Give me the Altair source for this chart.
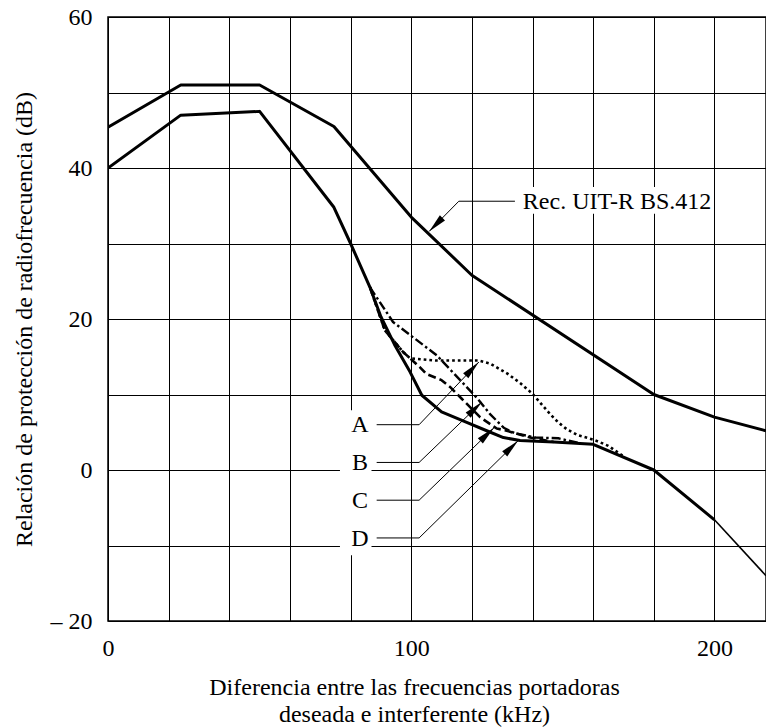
import math
import altair as alt
import pandas as pd

# ---------------- data ----------------
# Rec. UIT-R BS.412 curve
bs412_x = [0, 24, 50, 74.5, 100, 120, 180, 200, 217]
bs412_y = [45.4, 51, 51, 45.5, 33.5, 25.8, 10, 7, 5.2]

# Curve D (solid, bold)
d_x = [0, 24, 50, 74.5, 80, 86.4, 90, 94.5, 99.6, 103.5, 110, 118.3, 124.9,
       130.4, 135.9, 147, 160, 180, 200]
d_y = [40, 47, 47.5, 34.8, 30, 24.2, 20.3, 16.6, 13.0, 9.9, 7.7, 6.3, 5.2,
       4.3, 3.9, 3.7, 3.4, 0, -6.6]
# thin continuation of the lower curve
d_ext_x = [200, 217]
d_ext_y = [-6.6, -14]

# Curve C (dashed)
c_x = [86.4, 91.3, 97.4, 102.9, 105.1, 110, 112.8, 116.5, 122.7, 128.2, 131.5, 139.2, 147]
c_y = [24.2, 18.5, 15.6, 13.6, 12.7, 11.9, 11.0, 9.5, 7.0, 5.5, 5.2, 4.3, 3.7]

# Curve B (dash-dot)
b_x = [86.4, 94, 108.4, 122, 126, 130.5, 134, 141, 148.5, 155]
b_y = [24.2, 19.6, 15.2, 9.4, 7.4, 5.6, 4.9, 4.3, 4.2, 3.6]

# Curve A (dotted)
a_x = [86.4, 91.3, 97.4, 99.6, 108, 122.3, 126, 131.6, 136, 140, 143, 145.8,
       148.5, 151.3, 155, 160.3, 165, 170]
a_y = [24.2, 18.5, 15.6, 14.8, 14.5, 14.5, 14.1, 12.8, 11.5, 10.1, 8.7, 7.4,
       6.3, 5.4, 4.6, 4.0, 3.2, 1.8]

# Labels A-D and their leader arrows
lab_text = ["A", "B", "C", "D"]
lab_x = 83.1
lab_base_y = [5, 0, -5, -10]
lab_lead_y = [6, 1, -4, -9]
lead_x0, lead_x1 = 88.6, 102.6
tip_x = [122.3, 123.3, 127.3, 135.3]
tip_y = [14.3, 9.0, 5.6, 3.9]

# Rec. UIT-R BS.412 annotation
rec_text = "Rec. UIT-R BS.412"
rec_text_x, rec_text_y = 136.8, 34.6
rec_lead_x = [134.2, 115.7, 105.9]
rec_lead_y = [35.6, 35.6, 31.6]

# white boxes behind the annotation texts (grid interrupted there)
box_x = [134.2, 76.5]
box_x2 = [199.2, 86.9]
box_y = [33.95, -11.3]
box_y2 = [37.47, 7.9]

y_title = "Relación de protección de radiofrecuencia (dB)"
x_title = ["Diferencia entre las frecuencias portadoras", "deseada e interferente (kHz)"]

# ---------------- chart ----------------
FONT = "Liberation Serif"
W, H = 658, 604
XMAX = 217
YMIN, YMAX = -20, 60
PXX = W / XMAX
PXY = H / (YMAX - YMIN)

x_axis = alt.Axis(
    values=list(range(0, 201, 20)),
    labelExpr="datum.value % 100 == 0 ? datum.label : ''",
    format="d", grid=True, ticks=False, domain=False,
    gridColor="black", gridWidth=1, gridOpacity=1,
    labelFont=FONT, labelFontSize=24, labelColor="black", labelPadding=15,
    labelFlush=False, labelOverlap=False,
    title=x_title, titleFont=FONT, titleFontSize=24, titleFontWeight="normal",
    titleColor="black", titleX=306, titleY=73.5, titleAlign="center",
    titleBaseline="alphabetic", titleLineHeight=26.5,
)
y_axis = alt.Axis(
    values=list(range(-20, 61, 10)),
    labelExpr="datum.value == -20 ? '– 20' : (datum.value % 20 == 0 ? datum.label : '')",
    format="d", grid=True, ticks=False, domain=False,
    gridColor="black", gridWidth=1, gridOpacity=1,
    labelFont=FONT, labelFontSize=24, labelColor="black", labelPadding=16,
    labelFlush=False, labelOverlap=False,
    title=y_title, titleFont=FONT, titleFontSize=24, titleFontWeight="normal",
    titleColor="black", titleX=-76.5, titleY=302, titleAngle=270,
    titleAlign="center", titleBaseline="alphabetic",
)
x_scale = alt.Scale(domain=[0, XMAX], nice=False, zero=False)
y_scale = alt.Scale(domain=[YMIN, YMAX], nice=False, zero=False)
X = alt.X("x:Q", scale=x_scale, axis=x_axis)
Y = alt.Y("y:Q", scale=y_scale, axis=y_axis)


def line(xs, ys, width, dash=None):
    df = pd.DataFrame({"x": xs, "y": ys, "o": list(range(len(xs)))})
    kw = dict(color="black", strokeWidth=width, clip=True, strokeJoin="round")
    if dash:
        kw["strokeDash"] = dash
        kw["strokeCap"] = "butt"
    return alt.Chart(df).mark_line(**kw).encode(x=X, y=Y, order="o:Q")


# white boxes
boxes = alt.Chart(pd.DataFrame({"x": box_x, "x2": box_x2, "y": box_y, "y2": box_y2})).mark_rect(
    color="white", opacity=1
).encode(x=X, x2="x2:Q", y=Y, y2="y2:Q")

# leader lines
lead_rows = []
for i, t in enumerate(lab_text):
    pts = [(lead_x0, lab_lead_y[i]), (lead_x1, lab_lead_y[i]), (tip_x[i], tip_y[i])]
    for j, (px, py) in enumerate(pts):
        lead_rows.append({"x": px, "y": py, "g": t, "o": j})
for j, (px, py) in enumerate(zip(rec_lead_x, rec_lead_y)):
    lead_rows.append({"x": px, "y": py, "g": "rec", "o": j})
leaders = alt.Chart(pd.DataFrame(lead_rows)).mark_line(
    color="black", strokeWidth=1
).encode(x=X, y=Y, detail="g:N", order="o:Q")

# arrow heads (angle from leader direction in pixel space)
arrow_rows = []
for i in range(len(lab_text)):
    dx = (tip_x[i] - lead_x1) * PXX
    dy = (tip_y[i] - lab_lead_y[i]) * PXY
    ang = math.degrees(math.atan2(dx, dy)) % 360
    arrow_rows.append({"x": tip_x[i], "y": tip_y[i], "angle": ang})
dx = (rec_lead_x[2] - rec_lead_x[1]) * PXX
dy = (rec_lead_y[2] - rec_lead_y[1]) * PXY
arrow_rows.append({"x": rec_lead_x[2], "y": rec_lead_y[2],
                   "angle": math.degrees(math.atan2(dx, dy)) % 360})
arrows = alt.Chart(pd.DataFrame(arrow_rows)).mark_point(
    shape="M0,0 L0.19,1 L-0.19,1 Z", filled=True, size=1444,
    color="black", opacity=1, strokeWidth=0
).encode(x=X, y=Y, angle=alt.Angle("angle:Q", scale=None))

labels = alt.Chart(pd.DataFrame({"x": [lab_x] * 4, "y": lab_base_y, "t": lab_text})).mark_text(
    font=FONT, fontSize=24, align="center", baseline="alphabetic", color="black"
).encode(x=X, y=Y, text="t:N")

rec_label = alt.Chart(pd.DataFrame({"x": [rec_text_x], "y": [rec_text_y], "t": [rec_text]})).mark_text(
    font=FONT, fontSize=24, align="left", baseline="alphabetic", color="black"
).encode(x=X, y=Y, text="t:N")

chart = alt.layer(
    boxes,
    line(a_x, a_y, 2.6, [2.7, 3]),
    line(b_x, b_y, 2.4, [9, 3, 2.5, 3]),
    line(c_x, c_y, 2.6, [8, 4]),
    line(d_ext_x, d_ext_y, 1.6),
    line(bs412_x, bs412_y, 3),
    line(d_x, d_y, 3),
    leaders,
    arrows,
    labels,
    rec_label,
).properties(
    width=W, height=H,
    autosize=alt.AutoSizeParams(type="none"),
    padding={"left": 108, "top": 17, "right": 0, "bottom": 107},
    background="white",
).configure(
    font=FONT
).configure_axis(
    labelFont=FONT, titleFont=FONT
).configure_view(stroke="black", strokeWidth=1.5)

chart.save("out.html", embed_options={"renderer": "svg", "actions": False})
